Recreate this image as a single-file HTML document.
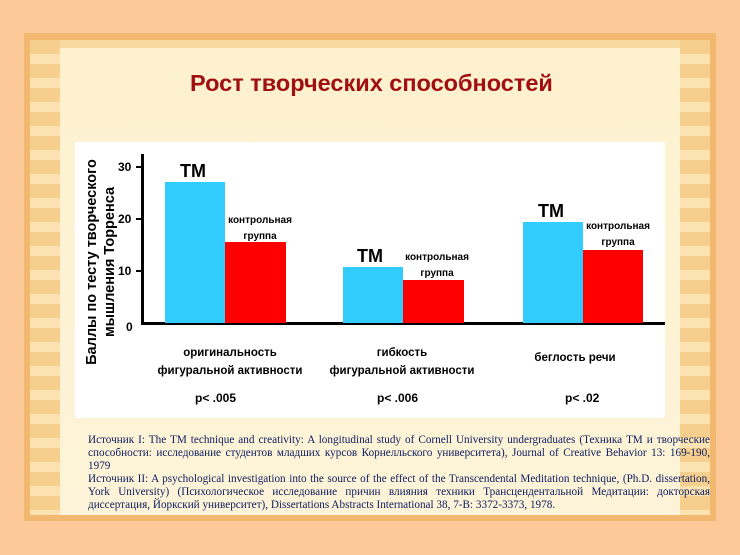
<!DOCTYPE html><html><head><meta charset="utf-8"><style>
body{margin:0;width:740px;height:555px;background:#fdc999;position:relative;overflow:hidden;font-family:"Liberation Sans",sans-serif}
.frame{position:absolute;left:24px;top:33px;width:692px;height:488px;background:#f2b870;}
.inner{position:absolute;left:30px;top:40px;width:680px;height:475px;background:linear-gradient(#fdf1cf,#fdf3d8);}
.col{position:absolute;top:40px;width:30px;height:475px;background:repeating-linear-gradient(#f6cf8f 0 14px,#fbe2b0 14px 24px);}
.top{position:absolute;left:30px;top:40px;width:680px;height:8px;background:#f7d9a0}
.panel{position:absolute;left:75px;top:142px;width:590px;height:276px;background:#fff}
.t{position:absolute;white-space:nowrap}
.b{position:absolute}
.note{position:absolute;left:88px;top:434px;width:622px;font-family:"Liberation Serif",serif;font-size:11.2px;line-height:13px;color:#102060;text-align:justify}
</style></head><body>
<div class="frame"></div><div class="inner"></div>
<div class="top"></div>
<div class="col" style="left:30px"></div><div class="col" style="left:680px"></div>
<div class="t" style="left:190px;top:70px;font-size:23.5px;font-weight:bold;color:#a01010;">Рост творческих способностей</div>
<div class="panel"></div>
<div class="t" style="left:83px;top:372px;transform:rotate(-90deg);transform-origin:0 0;font-size:14.5px;font-weight:bold;line-height:18px;text-align:center;width:220px">Баллы по тесту творческого<br>мышления Торренса</div>
<div class="b" style="left:141px;top:154px;width:3px;height:171px;background:#000"></div>
<div class="b" style="left:141px;top:322px;width:524px;height:3px;background:#000"></div>
<div class="b" style="left:136px;top:166px;width:6px;height:2px;background:#000"></div>
<div class="b" style="left:136px;top:218px;width:6px;height:2px;background:#000"></div>
<div class="b" style="left:136px;top:270px;width:6px;height:2px;background:#000"></div>
<div class="t" style="left:118px;top:160px;font-size:12px;font-weight:bold">30</div>
<div class="t" style="left:118px;top:212px;font-size:12px;font-weight:bold">20</div>
<div class="t" style="left:118px;top:264px;font-size:12px;font-weight:bold">10</div>
<div class="t" style="left:126px;top:320px;font-size:12px;font-weight:bold">0</div>
<div class="b" style="left:165px;top:182px;width:60px;height:141px;background:#33ccff"></div>
<div class="b" style="left:225px;top:242px;width:61px;height:81px;background:#ff0000"></div>
<div class="b" style="left:343px;top:267px;width:60px;height:56px;background:#33ccff"></div>
<div class="b" style="left:403px;top:280px;width:61px;height:43px;background:#ff0000"></div>
<div class="b" style="left:523px;top:222px;width:60px;height:101px;background:#33ccff"></div>
<div class="b" style="left:583px;top:250px;width:60px;height:73px;background:#ff0000"></div>
<div class="t" style="left:180px;top:161px;font-size:18px;font-weight:bold">ТМ</div>
<div class="t" style="left:357px;top:246px;font-size:18px;font-weight:bold">ТМ</div>
<div class="t" style="left:538px;top:201px;font-size:18px;font-weight:bold">ТМ</div>
<div class="t" style="left:224px;top:213px;font-size:10px;font-weight:bold;line-height:16px;text-align:center;width:72px">контрольная<br>группа</div>
<div class="t" style="left:401px;top:250px;font-size:10px;font-weight:bold;line-height:16px;text-align:center;width:72px">контрольная<br>группа</div>
<div class="t" style="left:582px;top:219px;font-size:10px;font-weight:bold;line-height:16px;text-align:center;width:72px">контрольная<br>группа</div>
<div class="t" style="left:145px;top:344px;width:170px;text-align:center;font-size:11.5px;font-weight:bold;line-height:18px">оригинальность<br>фигуральной активности</div>
<div class="t" style="left:317px;top:344px;width:170px;text-align:center;font-size:11.5px;font-weight:bold;line-height:18px">гибкость<br>фигуральной активности</div>
<div class="t" style="left:515px;top:352px;width:120px;text-align:center;font-size:11.5px;font-weight:bold">беглость речи</div>
<div class="t" style="left:195px;top:391px;font-size:12px;font-weight:bold">p&lt; .005</div>
<div class="t" style="left:377px;top:391px;font-size:12px;font-weight:bold">p&lt; .006</div>
<div class="t" style="left:565px;top:391px;font-size:12px;font-weight:bold">p&lt; .02</div>
<div class="note">Источник I: The TM technique and creativity: A longitudinal study of Cornell University undergraduates (Техника ТМ и творческие способности: исследование студентов младших курсов Корнелльского университета), Journal of Creative Behavior 13: 169-190, 1979<br>Источник II: A psychological investigation into the source of the effect of the Transcendental Meditation technique, (Ph.D. dissertation, York University) (Психологическое исследование причин влияния техники Трансцендентальной Медитации: докторская диссертация, Йоркский университет), Dissertations Abstracts International 38, 7-B: 3372-3373, 1978.</div>
</body></html>
